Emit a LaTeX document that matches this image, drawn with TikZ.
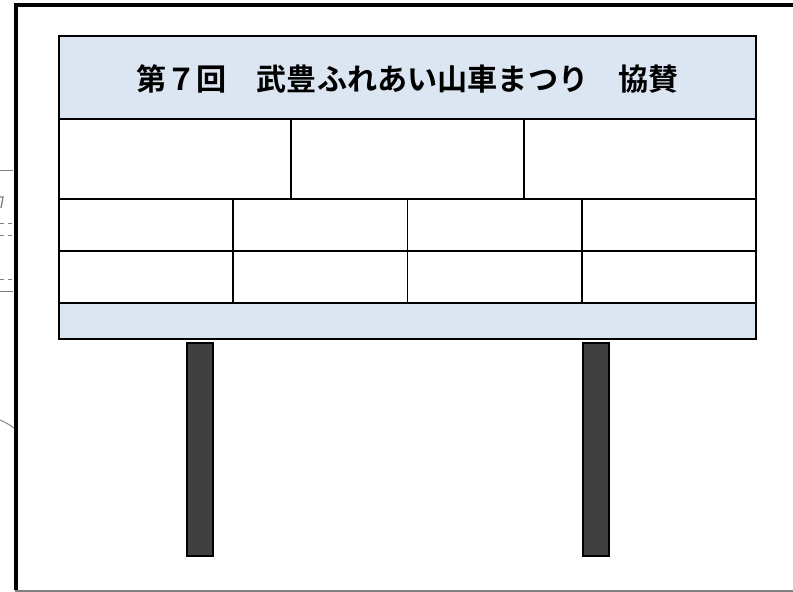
\documentclass[tikz,border=0pt]{standalone}
\usepackage{fontspec}
\newfontfamily\cjk{Noto Sans CJK JP}[BoldFont={Noto Sans CJK JP Bold}]
\definecolor{signblue}{HTML}{DCE6F2}
\definecolor{legfill}{HTML}{404040}
\tikzset{
  px/.style={x=0.75pt,y=-0.75pt},
  boardline/.style={draw=black,line width=1.5pt},
  cellline/.style={draw=black,line width=1.3pt},
  leg/.style={draw=black,fill=legfill,line width=1.3pt},
  frag/.style={draw=gray,line width=0.7pt},
}
\begin{document}
\begin{tikzpicture}[px]
\useasboundingbox (0,0) rectangle (793,592);
% page fragments on the left
\draw[frag] (0,170.5) -- (13,170.5);
\draw[frag,dashed] (0,223) -- (13,223);
\draw[frag,dashed] (0,235) -- (13,235);
\draw[frag,dashed] (0,279) -- (13,279);
\draw[frag] (0,291.5) -- (13,291.5);
\draw[frag,line width=1pt] (0,197) -- (3,197) -- (1,208);
\draw[frag] (0,420) .. controls (5,422) and (10,425) .. (14,428);
% outer frame
\draw[black,line width=3pt] (793,5.5) -- (15.5,5.5) -- (15.5,590);
\draw[gray,line width=1.5pt] (15,590.8) -- (793,590.8);
% legs
\draw[leg] (187,343) rectangle (213,556);
\draw[leg] (583,343) rectangle (609,556);
% board
\fill[signblue] (59,36) rectangle (756,119);
\fill[signblue] (59,303) rectangle (756,339);
\node[font=\cjk\bfseries] (title) at (407.5,79) {\fontsize{22.6pt}{26pt}\selectfont 第７回　武豊ふれあい山車まつり　協賛};
\draw[cellline] (59,119) -- (756,119);
\draw[cellline] (59,199) -- (756,199);
\draw[cellline] (59,251) -- (756,251);
\draw[cellline] (59,303) -- (756,303);
\draw[cellline] (291.3,119) -- (291.3,199);
\draw[cellline] (523.7,119) -- (523.7,199);
\draw[cellline] (233.3,199) -- (233.3,303);
\draw[cellline] (407.5,199) -- (407.5,303);
\draw[cellline] (581.8,199) -- (581.8,303);
\draw[boardline] (59,36) rectangle (756,339);
\end{tikzpicture}
\end{document}
